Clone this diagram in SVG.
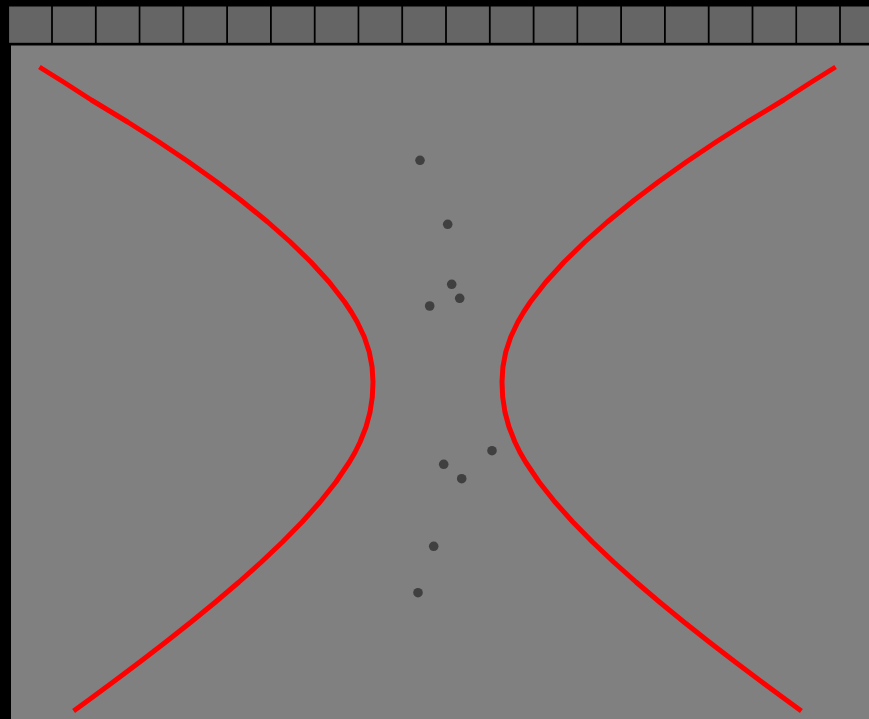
<svg xmlns="http://www.w3.org/2000/svg" width="869" height="719" viewBox="0 0 869 719">
  <defs>
    <style>
      .tile { fill: #656565; }
      .curve { fill: none; stroke: #ff0000; stroke-width: 5; stroke-linecap: butt; stroke-linejoin: round; }
      .dot { fill: #404040; filter: url(#soft); }
    </style>
    <filter id="soft" x="-50%" y="-50%" width="200%" height="200%">
      <feGaussianBlur stdDeviation="0.7"/>
    </filter>
  </defs>
  <rect x="0" y="0" width="869" height="719" fill="#000"/>
  <g id="tiles">
    <rect class="tile" x="9.1" y="6.5" width="42" height="36.3"/>
    <rect class="tile" x="52.9" y="6.5" width="42" height="36.3"/>
    <rect class="tile" x="96.7" y="6.5" width="42" height="36.3"/>
    <rect class="tile" x="140.4" y="6.5" width="42" height="36.3"/>
    <rect class="tile" x="184.2" y="6.5" width="42" height="36.3"/>
    <rect class="tile" x="228.0" y="6.5" width="42" height="36.3"/>
    <rect class="tile" x="271.8" y="6.5" width="42" height="36.3"/>
    <rect class="tile" x="315.6" y="6.5" width="42" height="36.3"/>
    <rect class="tile" x="359.3" y="6.5" width="42" height="36.3"/>
    <rect class="tile" x="403.1" y="6.5" width="42" height="36.3"/>
    <rect class="tile" x="446.9" y="6.5" width="42" height="36.3"/>
    <rect class="tile" x="490.7" y="6.5" width="42" height="36.3"/>
    <rect class="tile" x="534.5" y="6.5" width="42" height="36.3"/>
    <rect class="tile" x="578.2" y="6.5" width="42" height="36.3"/>
    <rect class="tile" x="622.0" y="6.5" width="42" height="36.3"/>
    <rect class="tile" x="665.8" y="6.5" width="42" height="36.3"/>
    <rect class="tile" x="709.6" y="6.5" width="42" height="36.3"/>
    <rect class="tile" x="753.4" y="6.5" width="42" height="36.3"/>
    <rect class="tile" x="797.1" y="6.5" width="42" height="36.3"/>
    <rect class="tile" x="840.9" y="6.5" width="42" height="36.3"/>
  </g>
  <rect id="panel" x="11" y="45.5" width="858" height="673.5" fill="#808080"/>
  <g id="curves">
    <polyline id="left-branch" class="curve" points="39.4,67 63.5,82 91.38,100 127.71,122 159.07,142 188.79,162 216.86,182 240.65,200 267.74,222 290.37,242 310.9,262 329.12,282 344.69,302 351.3,312 357.19,322 364.29,337 369.26,352 372.1,367 373.0,382 372.32,397 370.05,412 366.0,427 360.08,442 355.2,452 349.42,462 335.93,482 320.05,502 302.13,522 282.49,542 261.39,562 239.01,582 215.51,602 191.07,622 165.78,642 139.76,662 113.11,682 92.78,697 73.6,711"/>
    <polyline id="right-branch" class="curve" points="835.6,67 811.5,82 783.62,100 747.29,122 715.93,142 686.21,162 658.14,182 634.35,200 607.26,222 584.63,242 564.1,262 545.88,282 530.31,302 523.7,312 517.81,322 510.71,337 505.74,352 502.9,367 502.0,382 502.68,397 504.95,412 509.0,427 514.92,442 519.8,452 525.58,462 539.07,482 554.95,502 572.87,522 592.51,542 613.61,562 635.99,582 659.49,602 683.93,622 709.22,642 735.24,662 761.89,682 782.22,697 801.4,711"/>
  </g>
  <g id="points">
    <circle class="dot" cx="420" cy="160.3" r="4.8"/>
    <circle class="dot" cx="447.7" cy="224.3" r="4.8"/>
    <circle class="dot" cx="451.7" cy="284.3" r="4.8"/>
    <circle class="dot" cx="459.7" cy="298.3" r="4.8"/>
    <circle class="dot" cx="429.7" cy="306" r="4.8"/>
    <circle class="dot" cx="492" cy="450.7" r="4.8"/>
    <circle class="dot" cx="443.7" cy="464.3" r="4.8"/>
    <circle class="dot" cx="461.7" cy="478.7" r="4.8"/>
    <circle class="dot" cx="433.7" cy="546.3" r="4.8"/>
    <circle class="dot" cx="418" cy="592.7" r="4.8"/>
  </g>
</svg>
